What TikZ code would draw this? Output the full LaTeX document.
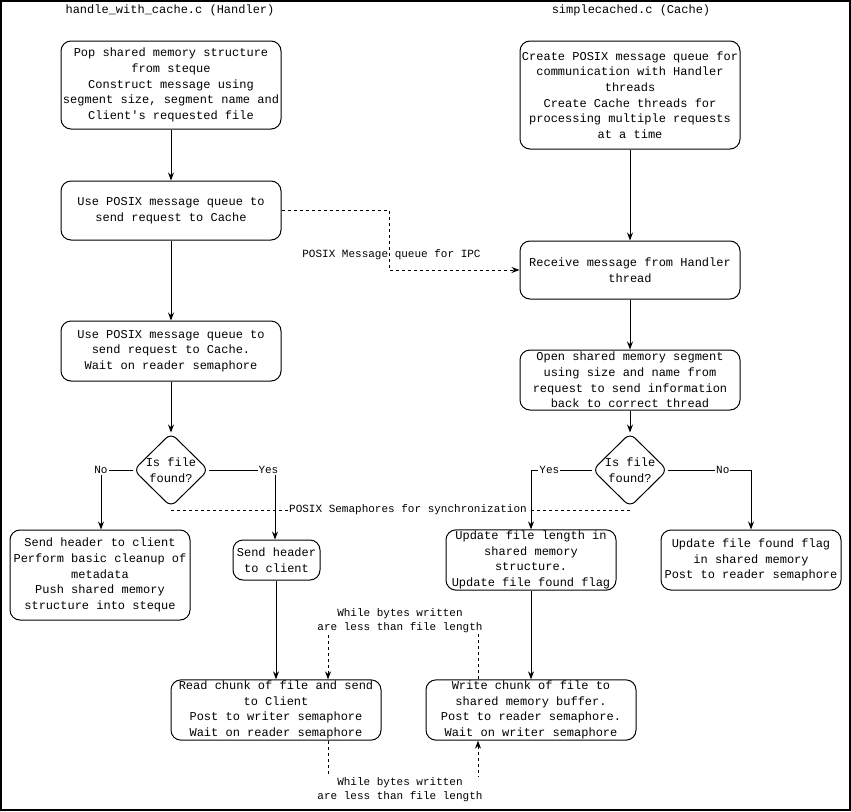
\documentclass[tikz,border=0pt]{standalone}
\usepackage{fontspec}
\usepackage{tikz}
\usetikzlibrary{arrows.meta, positioning, calc, shapes.geometric}
\newfontfamily\flowfont{Liberation Mono}
\newcommand{\flowtext}{\flowfont\fontsize{12}{15.7}\selectfont}
\newcommand{\edgetext}{\flowfont\fontsize{11}{14.2}\selectfont}

\begin{document}
\begin{tikzpicture}[x=1pt, y=-1pt, >={Stealth[length=8pt, width=6pt]},
    flowbox/.style={draw, line width=1pt, rounded corners=10pt, align=center, inner sep=1pt, font=\flowtext},
    decision/.style={draw, diamond, aspect=1, line width=1pt, rounded corners=7pt, minimum width=75pt, minimum height=74pt, inner sep=-8pt, align=center, font=\flowtext},
    flowarrow/.style={line width=1pt, ->},
    ipclink/.style={line width=0.9pt, dash pattern=on 3pt off 3pt},
    txt/.style={font=\flowtext, align=center, inner sep=1pt},
    edgelbl/.style={font=\edgetext, align=center, inner sep=1pt},
    branch/.style={font=\edgetext, fill=white, inner sep=1pt}]
    \useasboundingbox (0,0) rectangle (851,811);
    \draw[line width=2pt] (1,1) rectangle (850,810);

    % Column titles
    \node[txt] (ttlhandler) at (170,10) {handle\_with\_cache.c (Handler)};
    \node[txt] (ttlcache) at (631,10) {simplecached.c (Cache)};

    % Handler side
    \node[flowbox, minimum width=220pt, minimum height=88pt] (popmsg) at (171,85) {Pop shared memory structure\\from steque\\Construct message using\\segment size, segment name and\\Client's requested file};
    \node[flowbox, minimum width=220pt, minimum height=59pt] (sendreq) at (171,210.5) {Use POSIX message queue to\\send request to Cache};
    \node[flowbox, minimum width=220pt, minimum height=60pt] (waitread) at (171,351) {Use POSIX message queue to\\send request to Cache.\\Wait on reader semaphore};
    \node[decision] (foundh) at (171,470) {Is file\\found?};
    \node[flowbox, minimum width=180pt, minimum height=90pt] (cleanup) at (100,575) {Send header to client\\Perform basic cleanup of\\metadata\\Push shared memory\\structure into steque};
    \node[flowbox, minimum width=87pt, minimum height=40pt] (header) at (276.5,560) {Send header\\to client};
    \node[flowbox, minimum width=210pt, minimum height=60pt] (readchunk) at (276,710) {Read chunk of file and send\\to Client\\Post to writer semaphore\\Wait on reader semaphore};

    % Cache side
    \node[flowbox, minimum width=220pt, minimum height=108pt] (mkqueue) at (630,95) {Create POSIX message queue for\\communication with Handler\\threads\\Create Cache threads for\\processing multiple requests\\at a time};
    \node[flowbox, minimum width=220pt, minimum height=58pt] (recvmsg) at (630,270) {Receive message from Handler\\thread};
    \node[flowbox, minimum width=220pt, minimum height=60pt] (openshm) at (630,380) {Open shared memory segment\\using size and name from\\request to send information\\back to correct thread};
    \node[decision] (foundc) at (630,470) {Is file\\found?};
    \node[flowbox, minimum width=170pt, minimum height=60pt] (setlen) at (531,560) {Update file length in\\shared memory\\structure.\\Update file found flag};
    \node[flowbox, minimum width=180pt, minimum height=60pt] (setflag) at (751,560) {Update file found flag\\in shared memory\\Post to reader semaphore};
    \node[flowbox, minimum width=210pt, minimum height=60pt] (writechunk) at (531,710) {Write chunk of file to\\shared memory buffer.\\Post to reader semaphore.\\Wait on writer semaphore};

    % Main flow
    \draw[flowarrow] (popmsg) -- (sendreq);
    \draw[flowarrow] (sendreq) -- (waitread);
    \draw[flowarrow] (waitread) -- (foundh);
    \draw[flowarrow] (foundh.west) -| node[branch, pos=0.5] {No} ([xshift=1pt]cleanup.north);
    \draw[flowarrow] (foundh.east) -| node[branch, pos=0.45] {Yes} ([xshift=-1.5pt]header.north);
    \draw[flowarrow] (header.south -| readchunk.north) -- (readchunk.north);
    \draw[flowarrow] (mkqueue) -- (recvmsg);
    \draw[flowarrow] (recvmsg) -- (openshm);
    \draw[flowarrow] (openshm) -- (foundc);
    \draw[flowarrow] (foundc.west) -| node[branch, pos=0.35] {Yes} (setlen.north);
    \draw[flowarrow] (foundc.east) -| node[branch, pos=0.33] {No} (setflag.north);
    \draw[flowarrow] (setlen) -- (writechunk);

    % IPC links
    \coordinate (mqbend) at (389,240);
    \draw[ipclink, ->] (sendreq.east) -| (mqbend) |- (recvmsg.west);
    \node[edgelbl] (mqlabel) at (391.5,255) {POSIX Message queue for IPC};

    \draw[ipclink] ([yshift=-3pt]foundh.south) -- ([yshift=-3pt]foundc.south);
    \node[edgelbl, fill=white] (semlabel) at (408,510) {POSIX Semaphores for synchronization};

    \coordinate (looptop) at (400,621);
    \draw[ipclink, ->] ([xshift=-53pt]writechunk.north) |- (looptop) -| ([xshift=52pt]readchunk.north);
    \node[edgelbl, fill=white] (toplabel) at (looptop) {While bytes written\\are less than file length};

    \coordinate (loopbot) at (400,790);
    \draw[ipclink, ->] ([xshift=52pt]readchunk.south) |- (loopbot) -| ([xshift=-53pt]writechunk.south);
    \node[edgelbl, fill=white] (botlabel) at (loopbot) {While bytes written\\are less than file length};
\end{tikzpicture}
\end{document}
